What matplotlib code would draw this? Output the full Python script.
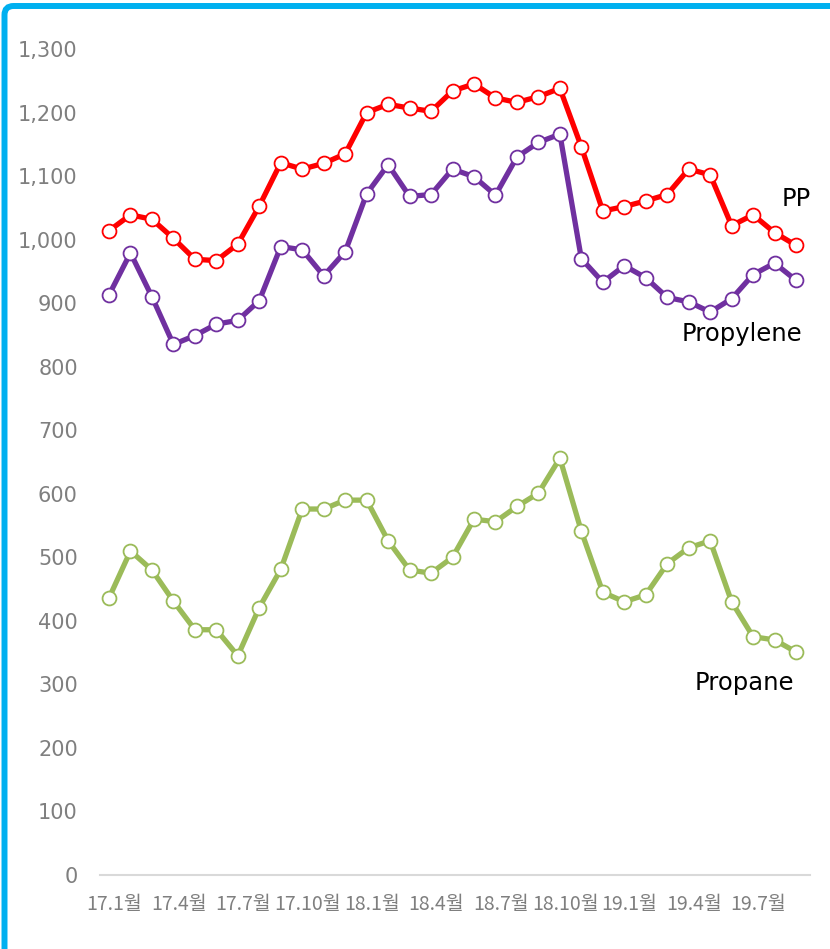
import matplotlib
matplotlib.use("Agg")
import matplotlib.pyplot as plt
from matplotlib.patches import FancyBboxPatch
from matplotlib.transforms import IdentityTransform
from matplotlib.ticker import FuncFormatter

# monthly prices, 17.1 ~ 19.9
x_labels = ['17.1월', '17.4월', '17.7월', '17.10월', '18.1월', '18.4월',
            '18.7월', '18.10월', '19.1월', '19.4월', '19.7월']

pp = [1014, 1039, 1032, 1002, 969, 967, 993, 1053, 1121, 1111, 1120,
      1135, 1200, 1213, 1207, 1202, 1234, 1245, 1223, 1216, 1225, 1238,
      1146, 1045, 1052, 1061, 1071, 1111, 1102, 1022, 1039, 1011, 991]

propylene = [913, 979, 910, 835, 849, 867, 873, 904, 989, 984, 943,
             981, 1072, 1118, 1068, 1071, 1111, 1099, 1070, 1130, 1153, 1166,
             970, 933, 959, 940, 909, 902, 886, 907, 945, 963, 936]

propane = [436, 510, 480, 431, 386, 386, 345, 421, 481, 576, 576,
           590, 590, 526, 480, 475, 500, 560, 556, 580, 601, 656,
           541, 445, 430, 441, 490, 515, 526, 430, 375, 370, 351]

series = [
    ("PP", pp, "#FF0000", (32.0, 1064)),
    ("Propylene", propylene, "#7030A0", (29.5, 851)),
    ("Propane", propane, "#9BBB59", (29.6, 302)),
]

GRAY = "#7F7F7F"


def draw_border(fig):
    """Blue frame on the left and top edges with a rounded corner."""
    w, h = fig.bbox.width, fig.bbox.height
    box = FancyBboxPatch((4.5, -30), w + 60, h - 6 + 30,
                         boxstyle="round,pad=0,rounding_size=9",
                         transform=IdentityTransform(), fill=False,
                         edgecolor="#00B0F0", linewidth=4.3)
    fig.add_artist(box)


def main():
    fig = plt.figure(figsize=(8.3, 9.49), dpi=100)
    ax = fig.add_axes([100 / 830, 1 - 875 / 949, 710 / 830, (875 - 49) / 949])

    for name, values, color, label_pos in series:
        ax.plot(range(len(values)), values, color=color, linewidth=3.8,
                marker='o', markersize=10, markerfacecolor='white',
                markeredgecolor=color, markeredgewidth=1.3,
                clip_on=False, zorder=3)
        ax.text(label_pos[0], label_pos[1], name, ha='center', va='center',
                fontsize=17.5, color='black')

    ax.set_xlim(-0.42, 32.65)
    ax.set_ylim(0, 1300)
    ax.set_yticks(range(0, 1301, 100))
    ax.yaxis.set_major_formatter(FuncFormatter(lambda v, p: f"{int(v):,}"))
    # labels sit a little to the right of their points in the original
    ax.set_xticks([i + 0.25 for i in range(0, 33, 3)])
    ax.set_xticklabels(x_labels, family=['Noto Sans CJK KR', 'DejaVu Sans'],
                       fontsize=14, color=GRAY)

    for side in ['left', 'top', 'right']:
        ax.spines[side].set_visible(False)
    ax.spines['bottom'].set_color('#D9D9D9')
    ax.spines['bottom'].set_linewidth(1.5)

    ax.tick_params(axis='y', length=0, pad=16, labelsize=15, labelcolor=GRAY)
    ax.tick_params(axis='x', length=0, pad=14)

    draw_border(fig)
    fig.savefig("out.png", dpi=100)


if __name__ == "__main__":
    main()
